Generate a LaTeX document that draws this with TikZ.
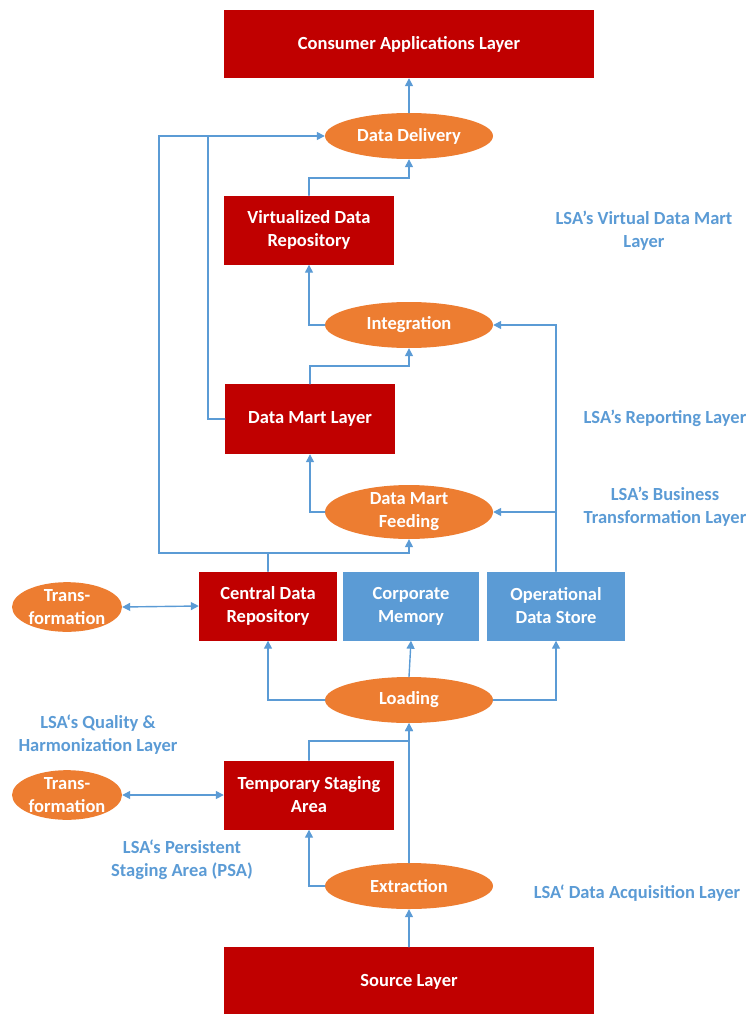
\documentclass[tikz,border=0pt]{standalone}
\usepackage{fontspec}
\setmainfont{Carlito}
\usetikzlibrary{arrows.meta,shapes.geometric}
\definecolor{lsared}{HTML}{C00000}
\definecolor{lsaorange}{HTML}{ED7D31}
\definecolor{lsablue}{HTML}{5B9BD5}

\begin{document}
\begin{tikzpicture}[x=1pt,y=-1pt,>={Triangle[length=8pt,width=8pt]},
  font=\fontsize{18.5}{23}\selectfont\bfseries,line cap=round,
  layer/.style={fill=lsared,text=white,align=center,inner sep=0pt},
  store/.style={fill=lsablue,text=white,align=center,inner sep=0pt},
  proc/.style={ellipse,fill=lsaorange,text=white,align=center,inner sep=0pt,
    minimum width=168pt,minimum height=46pt},
  trans/.style={proc,minimum width=110pt,minimum height=44pt},
  flow/.style={draw=lsablue,line width=1.4pt},
  lbl/.style={text=lsablue,align=center}]
\useasboundingbox (0,0) rectangle (749,1014);

% boxes
\node[layer,minimum width=370pt,minimum height=68pt] (consumer) at (409,44) {Consumer Applications Layer};
\node[layer,minimum width=170pt,minimum height=69pt] (vdr) at (309,230) {Virtualized Data\\Repository};
\node[layer,minimum width=170pt,minimum height=70pt] (dml) at (310,419) {Data Mart Layer};
\node[layer,minimum width=138pt,minimum height=69pt] (cdr) at (268,606) {Central Data\\Repository};
\node[store,minimum width=136pt,minimum height=69pt] (cm) at (411,606) {Corporate\\Memory};
\node[store,minimum width=138pt,minimum height=69pt] (ods) at (556,606) {Operational\\Data Store};
\node[layer,minimum width=170pt,minimum height=69pt] (tsa) at (309,795) {Temporary Staging\\Area};
\node[layer,minimum width=370pt,minimum height=70pt] (source) at (409,982) {Source Layer};

% processes
\node[proc] (deliv) at (409,136) {Data Delivery};
\node[proc] (integ) at (409,325) {Integration};
\node[proc] (dmf) at (409,512) {Data Mart\\Feeding};
\node[proc] (load) at (409,700) {Loading};
\node[proc] (extr) at (409,886) {Extraction};
\node[trans] (transa) at (67,607) {Trans-\\formation};
\node[trans] (transb) at (67,795) {Trans-\\formation};

% layer labels
\node[lbl] (lblvirtual) at (644,231) {LSA’s Virtual Data Mart\\Layer};
\node[lbl] (lblreport) at (665,418) {LSA’s Reporting Layer};
\node[lbl] (lblbusiness) at (665,507) {LSA’s Business\\Transformation Layer};
\node[lbl] (lblquality) at (98,735) {LSA‘s Quality \&\\Harmonization Layer};
\node[lbl] (lblpsa) at (182,860) {LSA‘s Persistent\\Staging Area (PSA)};
\node[lbl] (lblacq) at (637,893) {LSA‘ Data Acquisition Layer};

% connectors
\coordinate (cdrup) at (cdr.north |- 0,553);
\draw[flow,->] (deliv.north) -- (consumer.south);
\draw[flow,->] (vdr.north) -- (vdr.north |- 0,178) -| (deliv.south);
\draw[flow,->] (cdrup) -| (159,0 |- deliv.west) -- (deliv.west);
\draw[flow] (dml.west) -| (208,0 |- deliv.west);
\draw[flow,->] (integ.west) -| (vdr.south);
\draw[flow,->] (dml.north) -- (dml.north |- 0,366) -| (integ.south);
\draw[flow,->] (dmf.west) -| (dml.south);
\draw[flow,->] (cdr.north) -- (cdrup) -| (dmf.south);
\draw[flow,->] (ods.north) |- (integ.east);
\draw[flow,->] (ods.north |- dmf.east) -- (dmf.east);
\draw[flow,<->] (transa.east) -- (cdr.west);
\draw[flow,<->] (transb.east) -- (tsa.west);
\draw[flow,->] (load.west) -| (cdr.south);
\draw[flow,->] (load.east) -| (ods.south);
\draw[flow,->] (load.north) -- (cm.south);
\draw[flow,->] (tsa.north) -- (tsa.north |- 0,741) -| (load.south);
\draw[flow,->] (extr.north) -- (load.south);
\draw[flow,->] (extr.west) -| (tsa.south);
\draw[flow,->] (source.north) -- (extr.south);
\end{tikzpicture}
\end{document}
